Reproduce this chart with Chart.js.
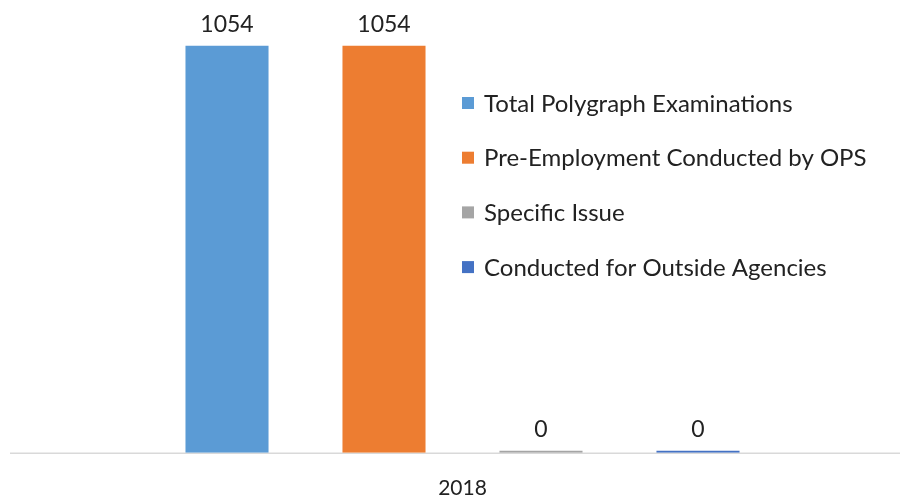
<!DOCTYPE html>
<html>
<head>
<meta charset="utf-8">
<script src="https://cdn.jsdelivr.net/npm/chart.js@4"></script>
<style>
  html, body { margin: 0; padding: 0; background: #fff; }
  #wrap { width: 900px; height: 495px; }
</style>
</head>
<body>
<div id="wrap"><canvas id="chart" width="900" height="495"></canvas></div>
<script>
const categories = ['2018'];
const seriesNames = [
  'Total Polygraph Examinations',
  'Pre-Employment Conducted by OPS',
  'Specific Issue',
  'Conducted for Outside Agencies'
];
const totalExams = [1054];
const preEmployment = [1054];
const specificIssue = [0];
const outsideAgencies = [0];
const seriesColors = ['#5B9BD5', '#ED7D31', '#A5A5A5', '#4472C4'];

const FONT = "Lato, 'Open Sans', sans-serif";

// value labels above each bar
const barLabels = {
  id: 'barLabels',
  afterDatasetsDraw(chart) {
    const ctx = chart.ctx;
    ctx.save();
    ctx.font = '23px ' + FONT;
    ctx.fillStyle = '#222';
    ctx.textAlign = 'center';
    ctx.textBaseline = 'alphabetic';
    chart.data.datasets.forEach((ds, i) => {
      chart.getDatasetMeta(i).data.forEach((bar, j) => {
        ctx.fillText(String(ds.data[j]), bar.x, bar.y - 14);
      });
    });
    ctx.restore();
  }
};

// legend drawn inside the plot area, plus the full-width baseline
const sideLegend = {
  id: 'sideLegend',
  beforeDatasetsDraw(chart) {
    const ctx = chart.ctx;
    const y = chart.scales.y.getPixelForValue(0);
    ctx.save();
    ctx.strokeStyle = '#d9d9d9';
    ctx.lineWidth = 1.5;
    ctx.beginPath();
    ctx.moveTo(10, y + 0.5);
    ctx.lineTo(900, y + 0.5);
    ctx.stroke();
    ctx.restore();
  },
  afterDraw(chart) {
    const ctx = chart.ctx;
    ctx.save();
    ctx.font = '24px ' + FONT;
    ctx.textBaseline = 'middle';
    chart.data.datasets.forEach((ds, i) => {
      const cy = 103 + i * 54.7;
      ctx.fillStyle = ds.backgroundColor;
      ctx.fillRect(462, cy - 6, 12, 12);
      ctx.fillStyle = '#222';
      ctx.fillText(ds.label, 484, cy + 1);
    });
    ctx.restore();
  }
};

const seriesData = [totalExams, preEmployment, specificIssue, outsideAgencies];

new Chart(document.getElementById('chart'), {
  type: 'bar',
  data: {
    labels: categories,
    datasets: seriesNames.map((name, i) => ({
      label: name,
      data: seriesData[i],
      backgroundColor: seriesColors[i],
      borderWidth: 0,
      minBarLength: 2,
      categoryPercentage: 0.7177,
      barPercentage: 0.529
    }))
  },
  options: {
    responsive: false,
    animation: false,
    layout: { padding: { left: 25, right: 0, top: 28, bottom: -21 } },
    plugins: {
      legend: { display: false },
      tooltip: { enabled: false }
    },
    scales: {
      x: {
        grid: { display: false },
        border: { display: false },
        ticks: { color: '#222', font: { family: FONT, size: 21 }, padding: 15 }
      },
      y: {
        display: false,
        min: 0,
        max: 1100
      }
    }
  },
  plugins: [barLabels, sideLegend]
});
</script>
</body>
</html>
